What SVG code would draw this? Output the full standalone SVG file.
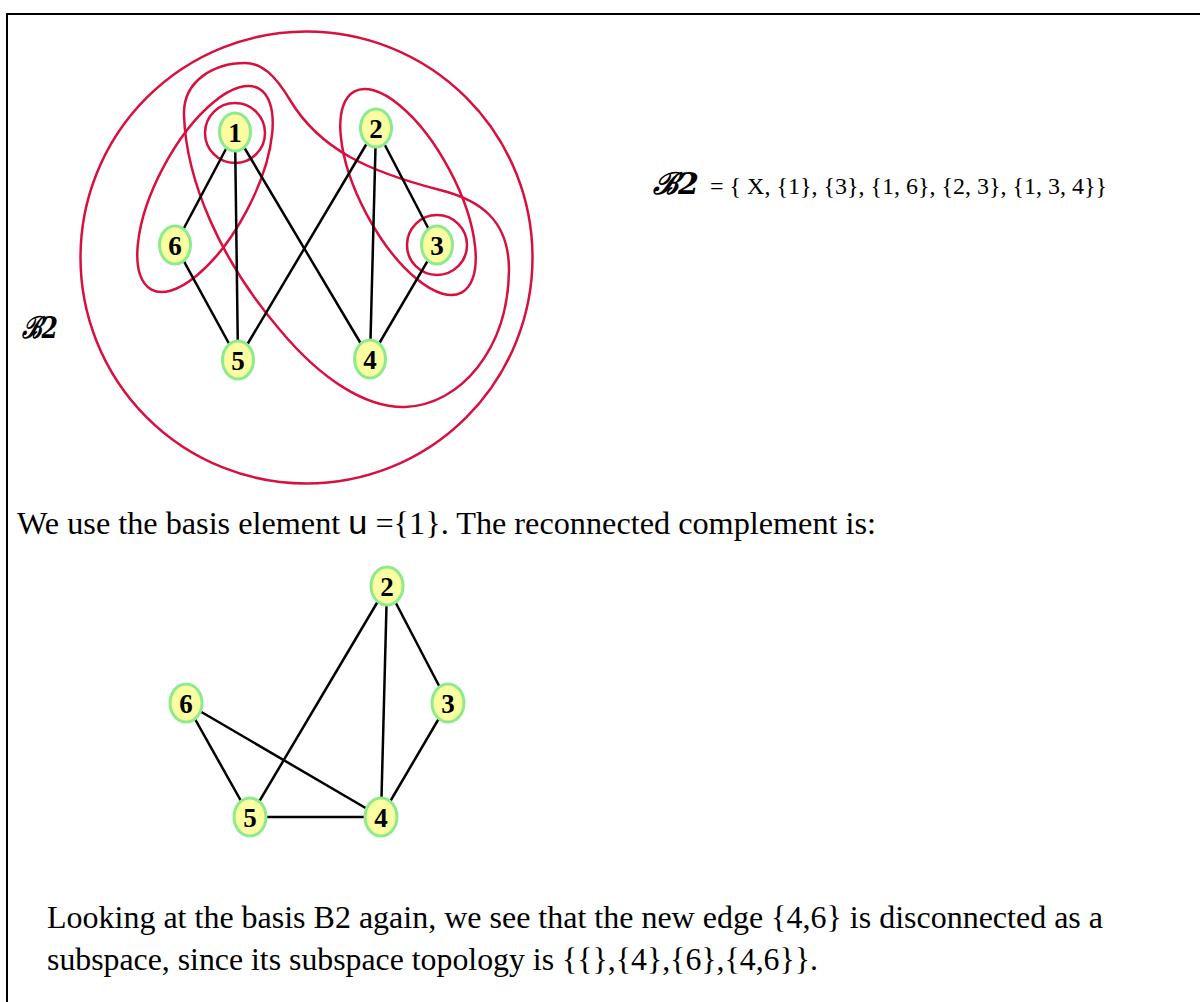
<svg xmlns="http://www.w3.org/2000/svg" width="1200" height="1002" viewBox="0 0 1200 1002">
<style>
.node ellipse{fill:#FAFDA0;stroke:#8DEB8D;stroke-width:3}
.node text{font-family:"Liberation Serif",serif;font-weight:bold;font-size:27px;text-anchor:middle;fill:#000}
.edge{stroke:#000;stroke-width:2.5;fill:none}
.set{stroke:#D8103F;stroke-width:2.5;fill:none}
.txt{font-family:"Liberation Serif",serif;font-size:32px;fill:#000}
.small{font-family:"Liberation Serif",serif;font-size:24px;fill:#000}
.scr{font-family:"DejaVu Serif",serif;font-style:italic;font-weight:bold;font-size:30px;fill:#000}
</style>
<rect x="0" y="0" width="1200" height="1002" fill="#fff"/>
<rect x="7" y="14" width="1210" height="1010" fill="none" stroke="#000" stroke-width="2"/>

<g id="sets">
<circle class="set" cx="306.5" cy="257.5" r="226"/>
<circle class="set" cx="235" cy="133" r="30"/>
<circle class="set" cx="437" cy="245" r="30"/>
<ellipse class="set" cx="205" cy="189" rx="114" ry="47" transform="rotate(-62 205 189)"/>
<ellipse class="set" cx="408" cy="192" rx="114" ry="47" transform="rotate(62 408 192)"/>
<path class="set" d="M245 63 C215 63,183 80,184 115 C186 180,220 260,280 330 C320 378,365 408,405 407 C460 405,508 350,509 270 C509 220,480 200,440 190 C370 172,320 150,290 100 C275 75,262 63,245 63 Z"/>
</g>

<g id="connectors">
<line class="edge" x1="235" y1="132" x2="175" y2="245"/>
<line class="edge" x1="235" y1="132" x2="238" y2="360"/>
<line class="edge" x1="235" y1="132" x2="370" y2="359"/>
<line class="edge" x1="376" y1="128" x2="238" y2="360"/>
<line class="edge" x1="376" y1="128" x2="370" y2="359"/>
<line class="edge" x1="376" y1="128" x2="437" y2="245"/>
<line class="edge" x1="175" y1="245" x2="238" y2="360"/>
<line class="edge" x1="437" y1="245" x2="370" y2="359"/>

<line class="edge" x1="387" y1="586" x2="250" y2="817"/>
<line class="edge" x1="387" y1="586" x2="381" y2="817"/>
<line class="edge" x1="387" y1="586" x2="448" y2="703"/>
<line class="edge" x1="448" y1="703" x2="381" y2="817"/>
<line class="edge" x1="186" y1="703" x2="250" y2="817"/>
<line class="edge" x1="186" y1="703" x2="381" y2="817"/>
<line class="edge" x1="250" y1="817" x2="381" y2="817"/>
</g>

<g id="n1" class="node"><ellipse cx="235" cy="132" rx="15.5" ry="19"/><text x="235" y="142">1</text></g>
<g id="n2" class="node"><ellipse cx="376" cy="128" rx="15.5" ry="19"/><text x="376" y="138">2</text></g>
<g id="n3" class="node"><ellipse cx="437" cy="245" rx="15.5" ry="19"/><text x="437" y="255">3</text></g>
<g id="n4" class="node"><ellipse cx="370" cy="359" rx="15.5" ry="19"/><text x="370" y="369">4</text></g>
<g id="n5" class="node"><ellipse cx="238" cy="360" rx="15.5" ry="19"/><text x="238" y="370">5</text></g>
<g id="n6" class="node"><ellipse cx="175" cy="245" rx="15.5" ry="19"/><text x="175" y="255">6</text></g>

<g id="m2" class="node"><ellipse cx="387" cy="586" rx="16" ry="19"/><text x="387" y="596">2</text></g>
<g id="m3" class="node"><ellipse cx="448" cy="703" rx="16" ry="19"/><text x="448" y="713">3</text></g>
<g id="m6" class="node"><ellipse cx="186" cy="703" rx="16" ry="19"/><text x="186" y="713">6</text></g>
<g id="m5" class="node"><ellipse cx="250" cy="817" rx="16" ry="19"/><text x="250" y="827">5</text></g>
<g id="m4" class="node"><ellipse cx="381" cy="817" rx="16" ry="19"/><text x="381" y="827">4</text></g>

<text class="scr" x="22" y="338" textLength="36" lengthAdjust="spacingAndGlyphs">ℬ2</text>
<text class="scr" x="653" y="194" textLength="46" lengthAdjust="spacingAndGlyphs">ℬ2</text>
<text class="small" x="710" y="194">= { X, {1}, {3}, {1, 6}, {2, 3}, {1, 3, 4}}</text>

<text class="txt" x="17" y="534" textLength="859" lengthAdjust="spacingAndGlyphs">We use the basis element <tspan font-family="'Liberation Sans',sans-serif" font-size="34">u</tspan> ={1}.  The reconnected complement is:</text>

<text class="txt" x="47" y="928" textLength="1056" lengthAdjust="spacingAndGlyphs">Looking at the basis B2 again, we see that the new edge {4,6} is disconnected as a</text>
<text class="txt" x="47" y="970" textLength="771" lengthAdjust="spacingAndGlyphs">subspace, since its subspace topology is {{},{4},{6},{4,6}}.</text>
</svg>
